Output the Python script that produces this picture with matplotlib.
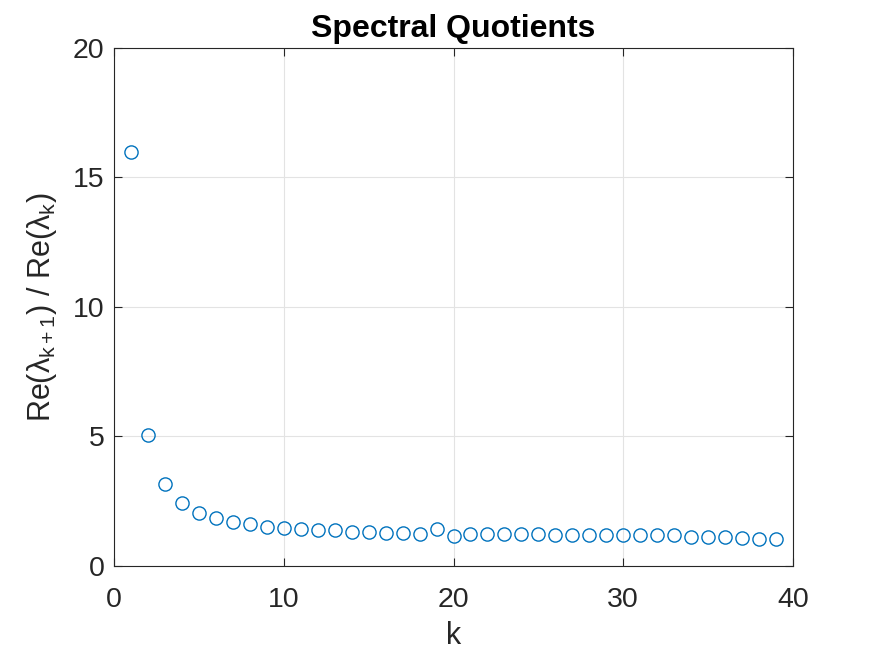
import matplotlib
matplotlib.use("Agg")
import matplotlib.pyplot as plt

plt.rcParams["font.family"] = ["Liberation Sans", "DejaVu Sans"]
plt.rcParams["mathtext.fontset"] = "custom"
plt.rcParams["mathtext.rm"] = "Liberation Sans"
plt.rcParams["mathtext.it"] = "Liberation Sans"

# spectral quotients
k = list(range(1, 40))
quotients = [16.0, 5.05, 3.17, 2.43, 2.05, 1.85, 1.70, 1.61, 1.52, 1.47,
             1.42, 1.38, 1.38, 1.33, 1.33, 1.27, 1.27, 1.22, 1.43, 1.15,
             1.22, 1.22, 1.22, 1.22, 1.22, 1.18, 1.18, 1.18, 1.18, 1.18,
             1.18, 1.18, 1.18, 1.13, 1.13, 1.13, 1.09, 1.05, 1.05]
xticks = [0, 10, 20, 30, 40]
yticks = [0, 5, 10, 15, 20]

fig = plt.figure(figsize=(8.75, 6.57), dpi=100)
ax = fig.add_axes([0.1303, 0.1385, 0.776, 0.7885])

ax.plot(k, quotients, "o", markerfacecolor="none", markeredgecolor="#0072BD",
        markersize=9.5, markeredgewidth=1.0)

ax.set_xlim(0, 40)
ax.set_ylim(0, 20)
ax.set_xticks(xticks)
ax.set_yticks(yticks)
ax.grid(True, color="#e3e3e3", linewidth=0.8)
ax.set_axisbelow(True)
ax.tick_params(direction="in", top=True, right=True, labelsize=20.5,
               colors="#262626", length=6, width=0.8)
ax.tick_params(axis="x", pad=15)
ax.tick_params(axis="y", pad=7)
for s in ax.spines.values():
    s.set_color("#262626")
    s.set_linewidth(0.8)

ax.set_xlabel("k", fontsize=22, color="#262626", labelpad=6)
ax.set_ylabel(r"Re($\mathregular{\lambda_{k+1}}$) / Re($\mathregular{\lambda_k}$)",
              fontsize=22, color="#262626", labelpad=10)
ax.set_title("Spectral Quotients", fontsize=23, fontweight="bold", pad=8)

fig.savefig("out.png", dpi=100)
